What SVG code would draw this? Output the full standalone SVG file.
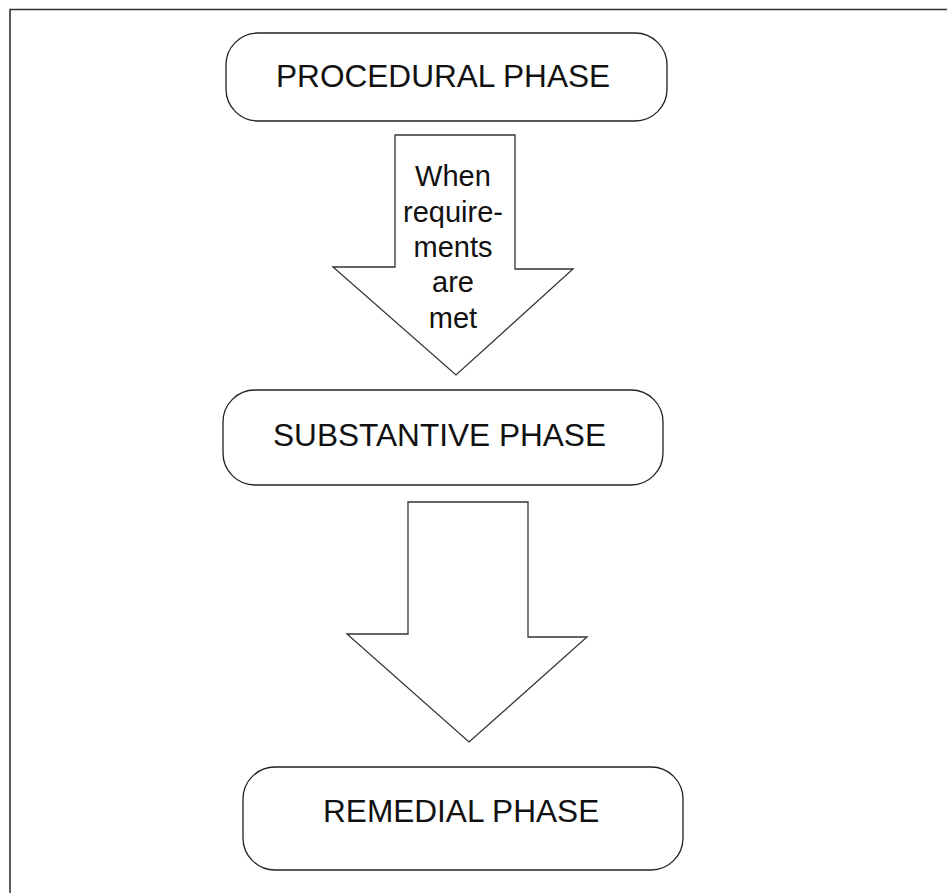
<svg xmlns="http://www.w3.org/2000/svg" width="947" height="893" viewBox="0 0 947 893">
<style>
.box{fill:#fff;stroke:#222;stroke-width:1.3}
.arr{fill:#fff;stroke:#333;stroke-width:1.3;stroke-linejoin:miter}
.t{font-family:"Liberation Sans",Arial,sans-serif;font-size:31.6px;fill:#111}
.a{font-family:"Liberation Sans",Arial,sans-serif;font-size:29px;fill:#111;text-anchor:middle}
</style>
<rect width="947" height="893" fill="#fff"/>
<path d="M10,893 V9.5 H947" fill="none" stroke="#333" stroke-width="1.6"/>
<g id="connectors">
<g id="arrow1">
<path class="arr" d="M395,135 H515 V269 H573 L456,375 L333,267 H395 Z"/>
<text class="a"><tspan x="453" y="186">When</tspan><tspan x="453" y="221.5">require-</tspan><tspan x="453" y="257">ments</tspan><tspan x="453" y="292">are</tspan><tspan x="453" y="327.5">met</tspan></text>
</g>
<path id="arrow2" class="arr" d="M408,502 H528 V637 H587 L469,742 L347,634 H408 Z"/>
</g>
<g id="procedural">
<rect class="box" x="226" y="33" width="441" height="88" rx="32" ry="32"/>
<text class="t" x="276" y="87">PROCEDURAL PHASE</text>
</g>
<g id="substantive">
<rect class="box" x="223" y="390" width="440" height="95" rx="32" ry="32"/>
<text class="t" x="273" y="446">SUBSTANTIVE PHASE</text>
</g>
<g id="remedial">
<rect class="box" x="243" y="767" width="440" height="103" rx="32" ry="32"/>
<text class="t" x="323" y="822">REMEDIAL PHASE</text>
</g>
</svg>
